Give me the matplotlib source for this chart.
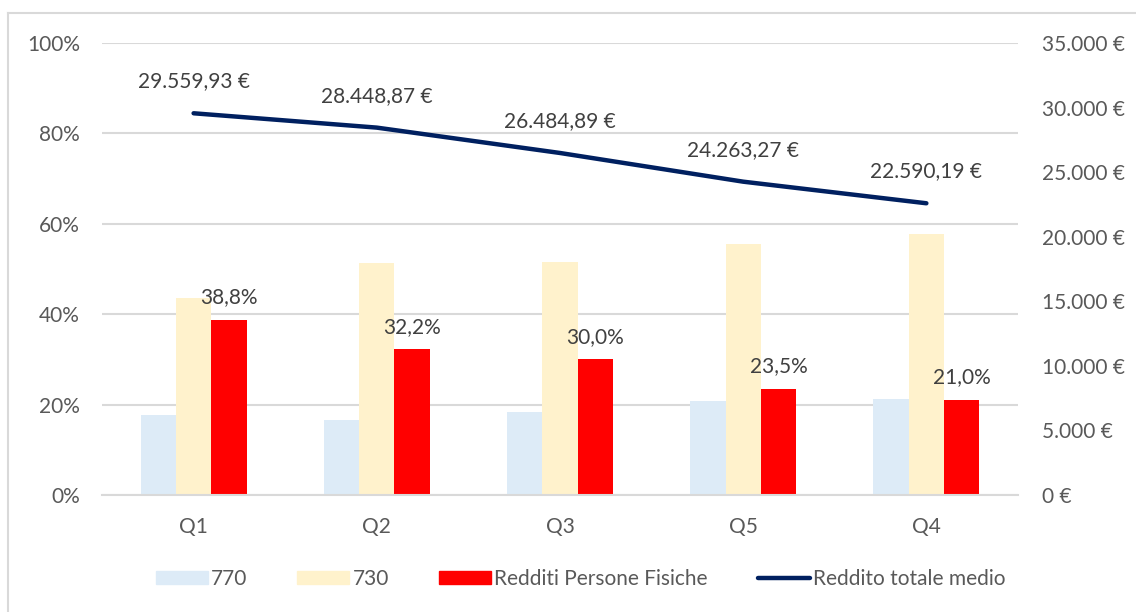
import matplotlib
matplotlib.use("Agg")
import matplotlib.pyplot as plt
from matplotlib.lines import Line2D
from matplotlib.ticker import FuncFormatter, MultipleLocator
import numpy as np

plt.rcParams["font.family"] = ["Lato", "DejaVu Sans"]

# Data
categories = ["Q1", "Q2", "Q3", "Q5", "Q4"]
share_770 = [17.7, 16.6, 18.4, 20.8, 21.2]
share_730 = [43.6, 51.3, 51.5, 55.5, 57.7]
share_rpf = [38.8, 32.2, 30.0, 23.5, 21.0]
reddito_medio = [29559.93, 28448.87, 26484.89, 24263.27, 22590.19]
series_names = ["770", "730", "Redditi Persone Fisiche", "Reddito totale medio"]

c770 = "#DDEBF7"
c730 = "#FFF2CC"
crpf = "#FF0000"
cline = "#002060"
grey_txt = "#595959"
grid_c = "#D9D9D9"
fs = 15


def it_num(v, dec):
    s = f"{v:,.{dec}f}"
    return s.replace(",", "X").replace(".", ",").replace("X", ".")


fig = plt.figure(figsize=(11.36, 6.12), dpi=100)
ax = fig.add_axes([0.0898, 0.1912, 0.8063, 0.7385])
ax2 = ax.twinx()

x = np.arange(len(categories))
w = 0.193
ax.bar(x - w, share_770, w, color=c770, zorder=2)
ax.bar(x, share_730, w, color=c730, zorder=2)
ax.bar(x + w, share_rpf, w, color=crpf, zorder=2)

for xi, v in zip(x + w, share_rpf):
    ax.annotate(it_num(v, 1) + "%", (xi, v), xytext=(0, 9), textcoords="offset points",
                ha="center", va="bottom", fontsize=fs, color="#404040", zorder=5)

ax.set_xlim(-0.5, len(categories) - 0.5)
ax.set_ylim(0, 100)
ax.yaxis.set_major_locator(MultipleLocator(20))
ax.yaxis.set_major_formatter(FuncFormatter(lambda v, p: f"{v:.0f}%"))
ax.set_xticks(x)
ax.set_xticklabels(categories)
ax.grid(axis="y", color=grid_c, linewidth=1.5, zorder=0)
ax.set_axisbelow(True)

ax2.plot(x, reddito_medio, color=cline, linewidth=3.2, solid_capstyle="round", zorder=4)
for xi, v in zip(x, reddito_medio):
    ax2.annotate(it_num(v, 2) + " €", (xi, v), xytext=(0, 23), textcoords="offset points",
                 ha="center", va="center", fontsize=fs, color="#404040")
ax2.set_ylim(0, 35000)
ax2.yaxis.set_major_locator(MultipleLocator(5000))
ax2.yaxis.set_major_formatter(FuncFormatter(lambda v, p: it_num(v, 0) + " €"))

for a in (ax, ax2):
    for s in a.spines.values():
        s.set_visible(False)
    a.tick_params(length=0, labelsize=fs, labelcolor=grey_txt)
ax.spines["bottom"].set_visible(True)
ax.spines["bottom"].set_color(grid_c)
ax.spines["bottom"].set_linewidth(1.5)
ax.tick_params(axis="x", pad=16)
ax.tick_params(axis="y", pad=16)
ax2.tick_params(axis="y", pad=17)

handles = [
    plt.Rectangle((0, 0), 1, 1, color=c770),
    plt.Rectangle((0, 0), 1, 1, color=c730),
    plt.Rectangle((0, 0), 1, 1, color=crpf),
    Line2D([0], [0], color=cline, linewidth=3.2, solid_capstyle="round"),
]
fig.legend(handles, series_names, loc="center", bbox_to_anchor=(0.511, 1 - 579 / 612),
           ncol=4, frameon=False, fontsize=fs, handlelength=2.5, handleheight=0.62,
           handletextpad=0.15, columnspacing=2.4, labelcolor=grey_txt)

# chart frame (top and left edges)
fig.add_artist(Line2D([8 / 1136, 1], [1 - 13 / 612] * 2, color=grid_c, linewidth=1.5))
fig.add_artist(Line2D([8 / 1136] * 2, [0, 1 - 13 / 612], color=grid_c, linewidth=1.5))

fig.savefig("out.png", dpi=100)
